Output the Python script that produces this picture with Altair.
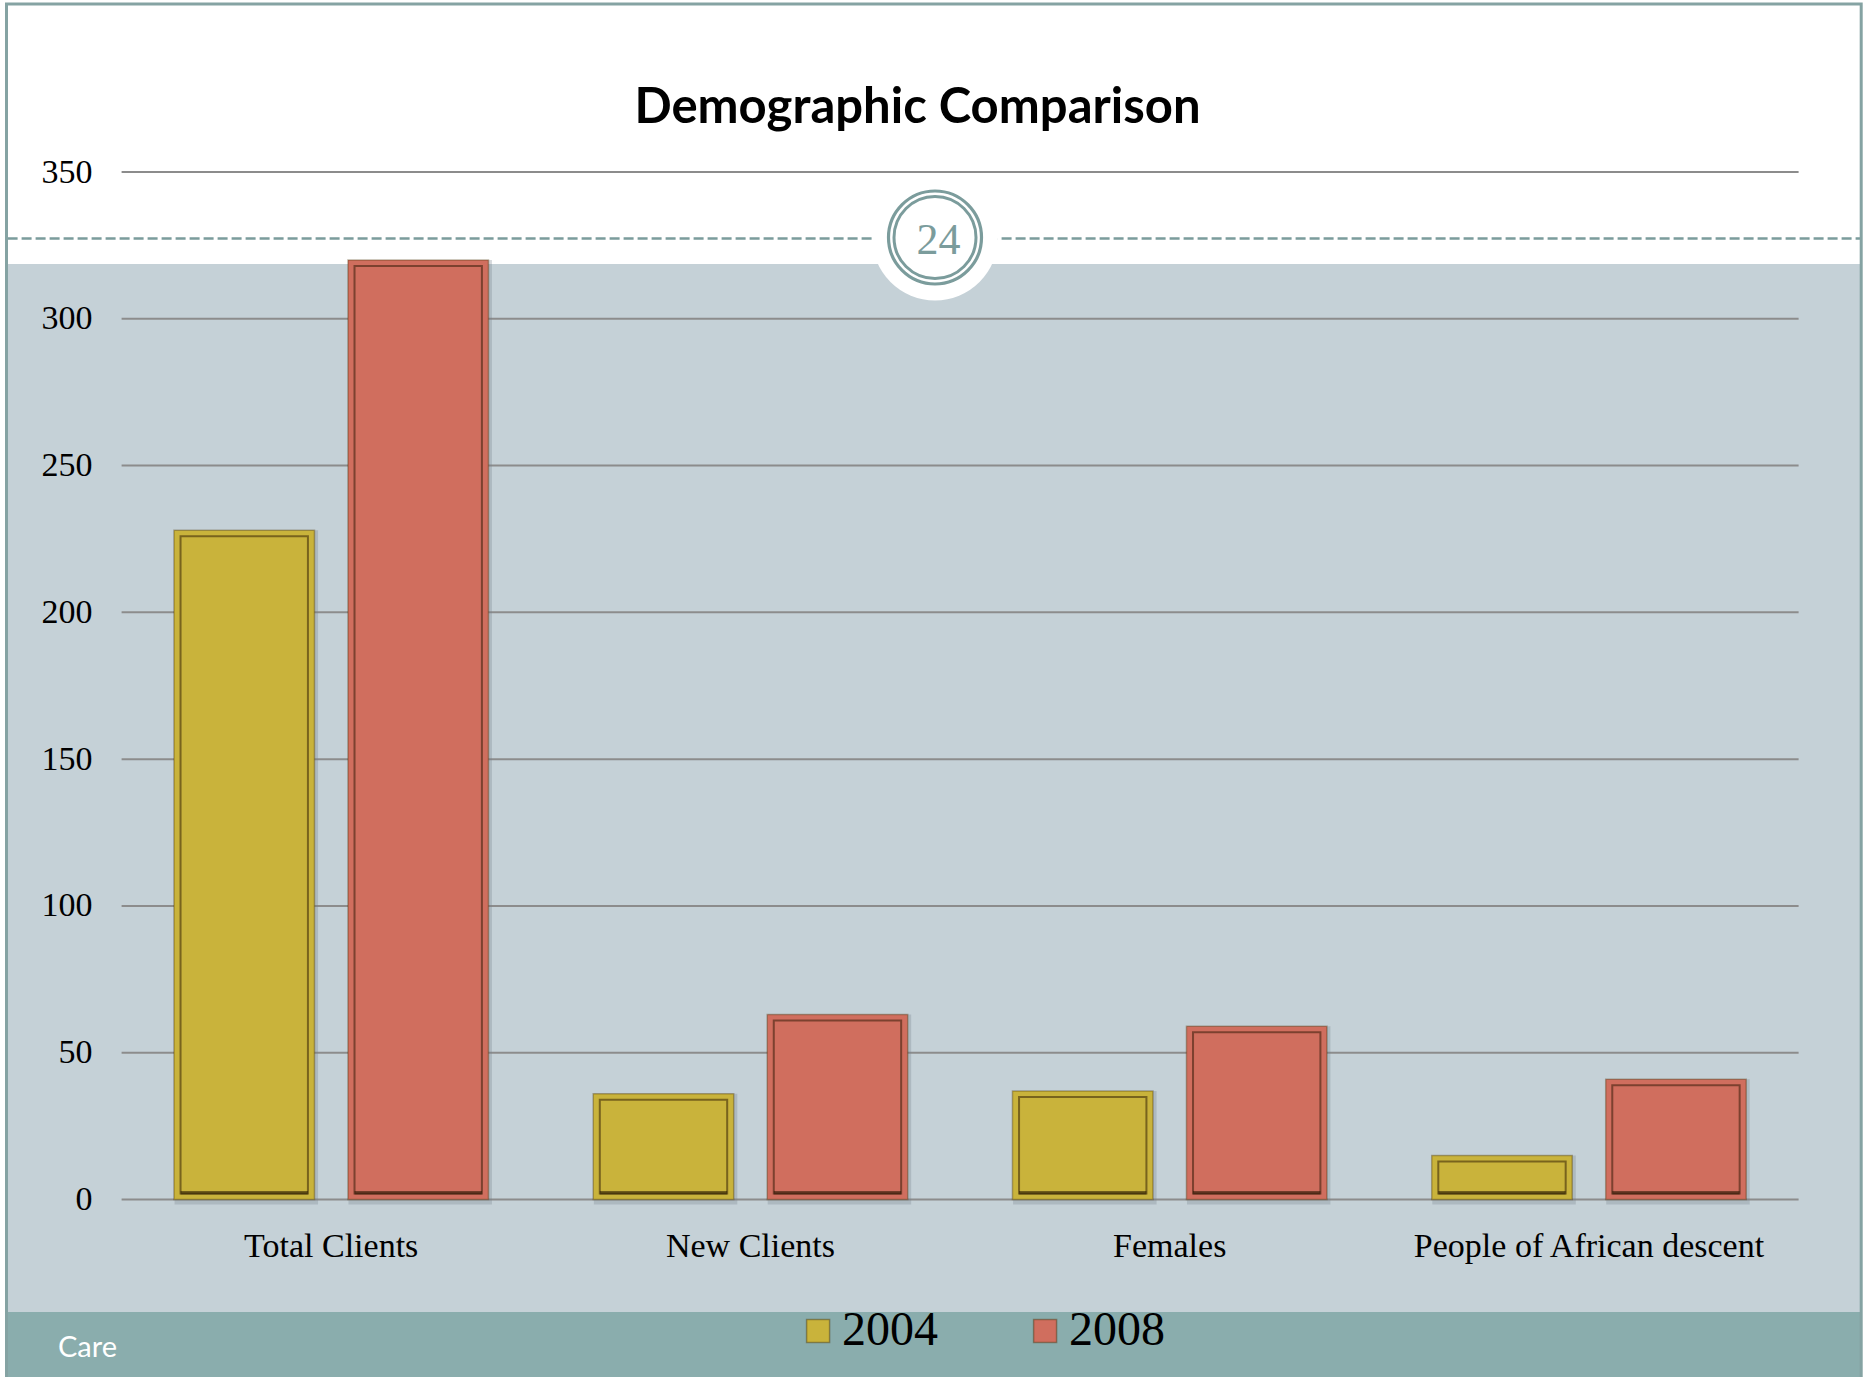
import altair as alt
import pandas as pd

# ---- data -----------------------------------------------------------------
categories = ["Total Clients", "New Clients", "Females", "People of African descent"]
years = ["2004", "2008"]
values_2004 = [228, 36, 37, 15]
values_2008 = [320, 63, 59, 41]
y_ticks = [0, 50, 100, 150, 200, 250, 300, 350]
page_number = "24"
footer_text = "Care"
title_text = "Demographic Comparison"

bar_colors = ["#c9b33b", "#d06e5e"]

rows = []
for cat, v04, v08 in zip(categories, values_2004, values_2008):
    rows.append({"category": cat, "year": years[0], "value": v04})
    rows.append({"category": cat, "year": years[1], "value": v08})
bars_df = pd.DataFrame(rows)
ticks_df = pd.DataFrame({"tick": y_ticks})
one = alt.Data(values=[{"k": 0}])

# ---- geometry of the slide ----------------------------------------------
W, H = 1869, 1377
PAD_L, PAD_T = 121.6, 172
PLOT_W, PLOT_H = 1677, 1027.5
PAD_R = W - PAD_L - PLOT_W
PAD_B = H - PAD_T - PLOT_H

serif = "Liberation Serif"
teal = "#7b9c9c"

y_scale = alt.Scale(domain=[0, 350], nice=False, zero=True)
y_axis = alt.Axis(
    values=y_ticks, grid=False, domain=False, ticks=False, tickSize=0,
    labelPadding=29.6, labelFont=serif, labelFontSize=34, labelColor="black",
    labelBaseline="middle", title=None, zindex=1,
)
x_scale = alt.Scale(domain=categories, paddingInner=0, paddingOuter=0)
x_axis = alt.Axis(
    labelAngle=0, domain=False, ticks=False, tickSize=0, labelPadding=30,
    labelFont=serif, labelFontSize=34, labelColor="black", title=None,
    zindex=1, labelLimit=600,
)

x_enc = alt.X("category:N", scale=x_scale, axis=x_axis, sort=categories)
y_enc = alt.Y("value:Q", scale=y_scale, axis=y_axis, stack=None)
y2_base = alt.Y2(datum=0)

# the bar layers share the same bar centres (step 174 px inside each
# 419 px category band) but use different widths
off_main = alt.XOffset("year:N", sort=years,
                       scale=alt.Scale(domain=years, paddingInner=0.1925, paddingOuter=0.301))
off_inner = alt.XOffset("year:N", sort=years,
                        scale=alt.Scale(domain=years, paddingInner=0.2678, paddingOuter=0.3388))
off_shadow = alt.XOffset("year:N", sort=years,
                         scale=alt.Scale(domain=years, paddingInner=0.175, paddingOuter=0.293, align=0.52))

# ---- slide backdrop ---------------------------------------------------------
content_bg = alt.Chart(one).mark_rect(color="#c5d1d7").encode(
    x=alt.value(-113.6), x2=alt.value(1738.4), y=alt.value(92), y2=alt.value(1140)
)
footer_bg = alt.Chart(one).mark_rect(color="#8aadad").encode(
    x=alt.value(-113.6), x2=alt.value(1738.4), y=alt.value(1140), y2=alt.value(1210)
)
frame = alt.Chart(one).mark_rect(fill=None, stroke="#85a3a3", strokeWidth=3).encode(
    x=alt.value(-115.1), x2=alt.value(1739.6), y=alt.value(-168), y2=alt.value(1215)
)
dashed = alt.Chart(one).mark_rule(color=teal, strokeWidth=2.5, strokeDash=[10, 4]).encode(
    x=alt.value(-114), x2=alt.value(1739), y=alt.value(66.5)
)
title = alt.Chart(one).mark_text(
    text=title_text, font="Lato", fontSize=49, fontWeight="bold", color="black",
    align="center", baseline="alphabetic",
).encode(x=alt.value(795.9), y=alt.value(-49))

# page badge
badge_disc = alt.Chart(one).mark_point(
    shape="circle", filled=True, color="white", opacity=1, size=126 ** 2
).encode(x=alt.value(813.4), y=alt.value(65.5))
badge_outer = alt.Chart(one).mark_point(
    shape="circle", filled=False, color=teal, opacity=1, strokeWidth=3.2, size=93 ** 2
).encode(x=alt.value(813.4), y=alt.value(65.5))
badge_inner = alt.Chart(one).mark_point(
    shape="circle", filled=False, color=teal, opacity=1, strokeWidth=3, size=82 ** 2
).encode(x=alt.value(813.4), y=alt.value(65.5))
badge_text = alt.Chart(one).mark_text(
    text=page_number, font=serif, fontSize=44, color=teal, baseline="middle", align="center"
).encode(x=alt.value(817), y=alt.value(69))

footer_label = alt.Chart(one).mark_text(
    text=footer_text, font="Lato", fontSize=29, color="white", align="left",
    baseline="alphabetic",
).encode(x=alt.value(-63.6), y=alt.value(1185))

# ---- chart layers -------------------------------------------------------------
gridlines = alt.Chart(ticks_df).mark_rule(color="#8c8c8c", strokeWidth=2).encode(
    y=alt.Y("tick:Q", scale=y_scale, axis=y_axis)
)

shadow = alt.Chart(bars_df).mark_bar(
    color="#76828a", opacity=0.3, y2Offset=5
).encode(x=x_enc, xOffset=off_shadow, y=y_enc, y2=y2_base)

bars = alt.Chart(bars_df).mark_bar(
    stroke="rgba(70,45,0,0.35)", strokeWidth=1.5, opacity=1
).encode(
    x=x_enc,
    xOffset=off_main,
    y=y_enc,
    y2=y2_base,
    color=alt.Color(
        "year:N",
        scale=alt.Scale(domain=years, range=bar_colors),
        legend=alt.Legend(
            title=None, orient="none", legendX=671, legendY=1135,
            direction="horizontal", symbolType="square", symbolSize=529,
            symbolStrokeColor="rgba(60,40,0,0.4)", symbolStrokeWidth=1.5,
            symbolOpacity=1, symbolOffset=1.5, labelFont=serif, labelFontSize=48,
            labelColor="black", labelOffset=0, columnPadding=81, padding=0,
        ),
    ),
)

# bevel: inset outline plus a heavier bottom edge
inner = alt.Chart(bars_df).mark_bar(
    fillOpacity=0, stroke="rgba(40,20,0,0.5)", strokeWidth=2, yOffset=6, y2Offset=-6,
).encode(x=x_enc, xOffset=off_inner, y=y_enc, y2=y2_base)

inner_bottom = alt.Chart(bars_df).mark_bar(
    color="rgba(35,20,0,0.55)", yOffset=-8.5, y2Offset=-5,
).encode(x=x_enc, xOffset=off_inner, y=alt.Y(datum=0, scale=y_scale, axis=y_axis), y2=y2_base)

chart = alt.layer(
    content_bg, footer_bg, gridlines, dashed, badge_disc, badge_outer, badge_inner,
    badge_text, title, shadow, bars, inner, inner_bottom, footer_label, frame,
).resolve_scale(
    xOffset="independent"
).properties(
    width=PLOT_W,
    height=PLOT_H,
    padding={"left": PAD_L, "top": PAD_T, "right": PAD_R, "bottom": PAD_B},
    autosize=alt.AutoSizeParams(type="none"),
    background="white",
).configure_view(stroke=None)

chart.save("out.html", embed_options={"renderer": "svg", "actions": False})
